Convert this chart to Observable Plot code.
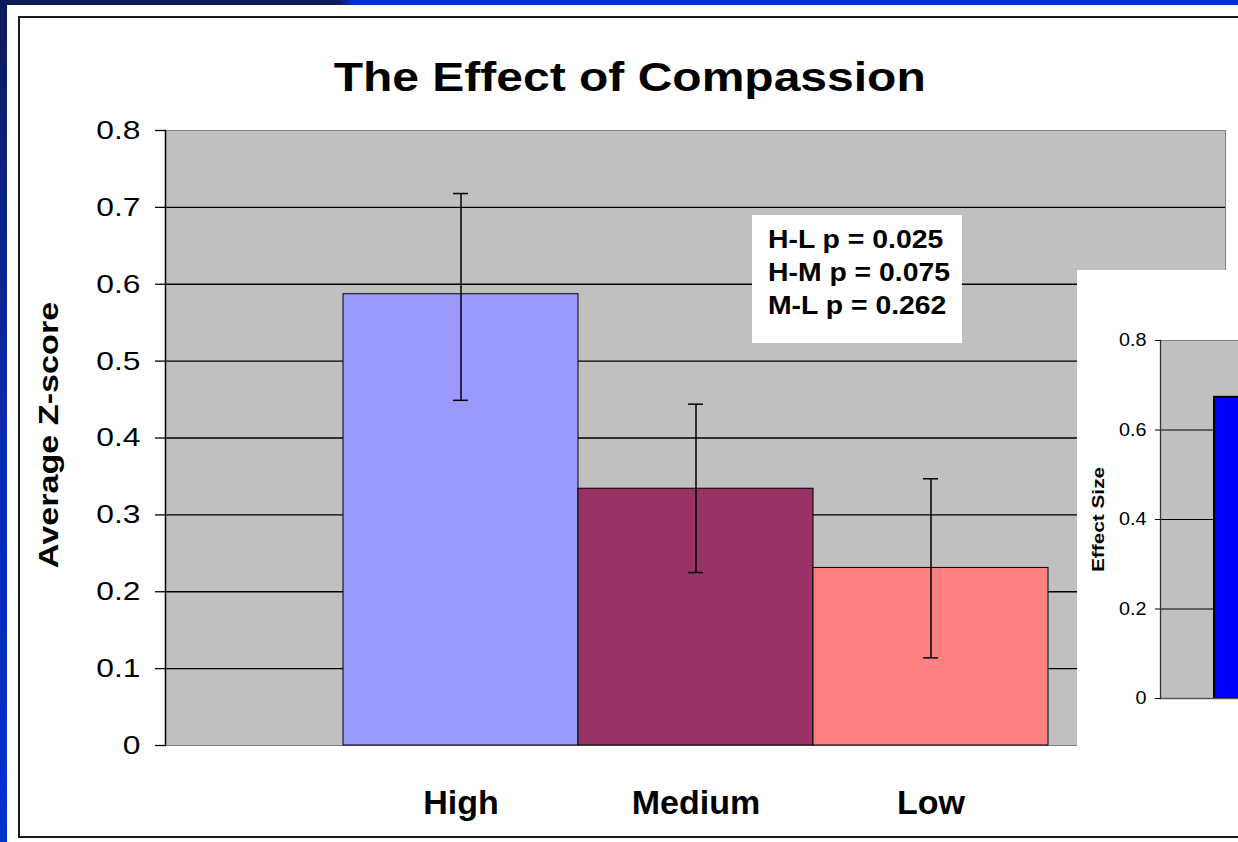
<!DOCTYPE html>
<html>
<head>
<meta charset="utf-8">
<script src="https://cdn.jsdelivr.net/npm/d3@7"></script>
<script src="https://cdn.jsdelivr.net/npm/@observablehq/plot@0.6"></script>
<style>
  html, body { margin: 0; padding: 0; width: 1238px; height: 842px; overflow: hidden; background: #0033cc; font-family: Arial, "Liberation Sans", sans-serif; }
  .abs { position: absolute; }
  #leftStrip { left: 0; top: 0; width: 7px; height: 842px; background: linear-gradient(to bottom, #0c1a5a 0%, #0a2aa8 45%, #0033cc 100%); }
  #topStrip { left: 0; top: 0; width: 1238px; height: 5px; background: linear-gradient(to right, #0c1a5a 0px, #0c1a5a 340px, #0033cc 352px, #0033cc 100%); }
  #panel { left: 7px; top: 5px; width: 1231px; height: 837px; background: #fff; }
  #border { left: 18px; top: 16px; width: 1400px; height: 818px; border: 2px solid #1a1a1a; }
  #title { left: 0; top: 57px; width: 1260px; text-align: center; font-weight: bold; font-size: 40px; line-height: 40px; color: #000; }
  #title span { display: inline-block; transform: scaleX(1.2); transform-origin: center; }
  #note { left: 752px; top: 215px; width: 210px; height: 128px; background: #fff; box-sizing: border-box; padding: 8px 0 0 16px; }
  #note div { font-weight: bold; font-size: 26.5px; line-height: 33px; white-space: nowrap; transform: scaleX(1.07); transform-origin: left; color: #000; }
  #main { left: 20px; top: 100px; }
  #inset { left: 1077px; top: 270px; }
</style>
</head>
<body>
<div id="leftStrip" class="abs"></div>
<div id="topStrip" class="abs"></div>
<div id="panel" class="abs"></div>
<div id="border" class="abs"></div>
<div id="main" class="abs"></div>
<div id="title" class="abs"></div>
<div id="note" class="abs"></div>
<div id="inset" class="abs"></div>
<script>
// ---- Data ----
const titleText = "The Effect of Compassion";
const yLabel = "Average Z-score";
const categories = ["High", "Medium", "Low"];
const means = [0.587, 0.334, 0.231];
const errLow = [0.449, 0.225, 0.114];
const errHigh = [0.718, 0.444, 0.347];
const barColors = ["#9999ff", "#993366", "#ff8080"];
const yTicks = [0, 0.1, 0.2, 0.3, 0.4, 0.5, 0.6, 0.7, 0.8];
const pLabels = ["H-L p = 0.025", "H-M p = 0.075", "M-L p = 0.262"];

// inset chart (partially hidden, overlapping at right)
const insetLabel = "Effect Size";
const insetCategories = ["bar1"];
const insetValues = [0.673];
const insetColors = ["#0000ff"];
const insetTicks = [0, 0.2, 0.4, 0.6, 0.8];

const FONT = "Arial, 'Liberation Sans', sans-serif";

function stretch(svg, selector, factor) {
  svg.querySelectorAll(selector).forEach(t => {
    const w = t.getComputedTextLength();
    if (w > 0) {
      t.setAttribute("textLength", w * factor);
      t.setAttribute("lengthAdjust", "spacingAndGlyphs");
    }
  });
}

// ---- Title & annotation ----
const ts = document.createElement("span");
ts.textContent = titleText;
document.getElementById("title").appendChild(ts);
const note = document.getElementById("note");
pLabels.forEach(s => { const d = document.createElement("div"); d.textContent = s; note.appendChild(d); });

// ---- Main chart ----
const data = categories.map((c, i) => ({cat: c, mean: means[i], lo: errLow[i], hi: errHigh[i]}));
const fmt = d => d === 0 ? "0" : d.toFixed(1);

const main = Plot.plot({
  width: 1218,
  height: 735,
  marginLeft: 145,
  marginRight: 13,
  marginTop: 30,
  marginBottom: 90,
  style: {fontFamily: FONT, background: "transparent", maxWidth: "none", overflow: "visible", color: "#000"},
  x: {domain: categories, paddingInner: 0, paddingOuter: 0.75, axis: null},
  y: {domain: [0, 0.8], axis: null},
  color: {domain: categories, range: barColors},
  marks: [
    Plot.frame({fill: "#c0c0c0", stroke: "#808080", strokeWidth: 1}),
    Plot.gridY(yTicks.filter(t => t > 0 && t < 0.8), {stroke: "#000", strokeOpacity: 1, strokeWidth: 1.3}),
    Plot.barY(data, {x: "cat", y: "mean", fill: "cat", stroke: "#000", strokeWidth: 1}),
    Plot.ruleX(data, {x: "cat", y1: "lo", y2: "hi", stroke: "#000", strokeWidth: 1.5}),
    Plot.tickY(data, {x: "cat", y: "hi", insetLeft: 110, insetRight: 110, stroke: "#000", strokeWidth: 1.5}),
    Plot.tickY(data, {x: "cat", y: "lo", insetLeft: 110, insetRight: 110, stroke: "#000", strokeWidth: 1.5}),
    Plot.frame({anchor: "left", stroke: "#000", strokeWidth: 1.5}),
    Plot.axisY({ticks: yTicks, tickFormat: fmt, tickSize: 10, tickPadding: 15, fontSize: 26.5, label: null, stroke: "#000", strokeWidth: 1.3}),
    Plot.axisX({tickSize: 0, tickPadding: 44, fontSize: 34, fontWeight: "bold", label: null}),
    Plot.text([yLabel], {text: d => d, frameAnchor: "left", textAnchor: "middle", rotate: -90, dx: -116, dy: -3, fontSize: 28, fontWeight: "bold", fill: "#000"})
  ]
});
document.getElementById("main").appendChild(main);
stretch(main, 'g[aria-label="y-axis tick label"] text', 1.2);
stretch(main, 'g[aria-label="text"] text', 1.22);

// ---- Inset chart ----
const insetData = insetCategories.map((c, i) => ({cat: c, v: insetValues[i]}));
const inset = Plot.plot({
  width: 400,
  height: 530,
  marginLeft: 83,
  marginRight: 20,
  marginTop: 70,
  marginBottom: 102,
  style: {fontFamily: FONT, background: "#fff", maxWidth: "none", color: "#000"},
  x: {domain: insetCategories, range: [137, 380], padding: 0, axis: null},
  y: {domain: [0, 0.8], axis: null},
  color: {domain: insetCategories, range: insetColors},
  marks: [
    Plot.frame({fill: "#c0c0c0", stroke: "#808080", strokeWidth: 1}),
    Plot.gridY(insetTicks.filter(t => t > 0 && t < 0.8), {stroke: "#000", strokeOpacity: 1, strokeWidth: 1}),
    Plot.barY(insetData, {x: "cat", y: "v", fill: "cat", stroke: "#000", strokeWidth: 2}),
    Plot.ruleY([0], {stroke: "#555", strokeWidth: 1.5}),
    Plot.frame({anchor: "left", stroke: "#333", strokeWidth: 1.3}),
    Plot.axisY({ticks: insetTicks, tickFormat: fmt, tickSize: 5, tickPadding: 9, fontSize: 18, label: null, stroke: "#000"}),
    Plot.text([insetLabel], {text: d => d, frameAnchor: "left", textAnchor: "middle", rotate: -90, dx: -62, fontSize: 16, fontWeight: "bold", fill: "#000"})
  ]
});
document.getElementById("inset").appendChild(inset);
stretch(inset, 'g[aria-label="y-axis tick label"] text', 1.1);
stretch(inset, 'g[aria-label="text"] text', 1.3);
</script>
</body>
</html>
